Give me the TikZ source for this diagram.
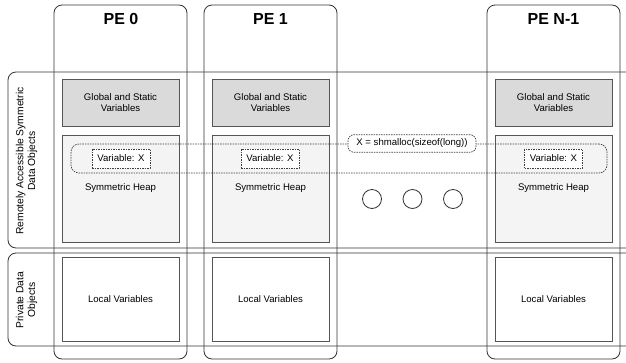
\documentclass[tikz,border=0pt]{standalone}
\usepackage{fontspec}
\setmainfont{Liberation Sans}
\definecolor{globalfill}{HTML}{DADADA}
\definecolor{heapfill}{HTML}{F4F4F4}
\definecolor{edge}{HTML}{333333}
\definecolor{boxedge}{HTML}{555555}
\begin{document}
\begin{tikzpicture}[x=1pt,y=-1pt,
  every node/.style={font=\fontsize{9.6}{11}\selectfont, inner sep=0pt, outer sep=0pt},
  frame/.style={draw=edge, line width=0.8pt, rounded corners=8pt},
  petitle/.style={font=\fontsize{16}{18}\selectfont\bfseries},
  globalbox/.style={draw=boxedge, line width=0.8pt, fill=globalfill, minimum width=117pt, minimum height=47pt, align=center},
  heapbox/.style={draw=boxedge, line width=0.8pt, fill=heapfill, minimum width=117pt, minimum height=107pt},
  localbox/.style={draw=boxedge, line width=0.8pt, fill=white, minimum width=117pt, minimum height=84pt},
  dashline/.style={draw=black!75, line width=0.7pt, dash pattern=on 1.5pt off 1pt},
  varbox/.style={dashline, fill=white, minimum width=58pt, minimum height=19pt},
  dots/.style={circle, draw=edge, line width=0.8pt, minimum size=19pt},
  rowlabel/.style={rotate=90, align=center, font=\fontsize{10.3}{11.8}\selectfont}
]
\useasboundingbox (0,0) rectangle (626,362);
\clip (0,0) rectangle (626,362);

% processing element columns
\node[frame, minimum width=133pt, minimum height=354pt] (pe0) at (120.5,182) {};
\node[frame, minimum width=133pt, minimum height=354pt] (pe1) at (270.5,182) {};
\node[frame, minimum width=133pt, minimum height=354pt] (pen) at (553.5,182) {};
\node[petitle] (t0) at (121,19) {PE 0};
\node[petitle] (t1) at (270.5,19) {PE 1};
\node[petitle] (tn) at (553.5,19) {PE N-1};

% data object rows
\node[frame, minimum width=640pt, minimum height=176pt] (rowsym) at (328,160) {};
\node[frame, minimum width=640pt, minimum height=93pt] (rowpriv) at (328,299.5) {};
\node[rowlabel] (labsym) at (26.5,161) {Remotely Accessible Symmetric\\Data Objects};
\node[rowlabel] (labpriv) at (26.5,300) {Private Data\\Objects};

% memory regions of each PE
\node[globalbox] (g0) at (120.5,102.5) {Global and Static\\Variables};
\node[globalbox] (g1) at (270.5,102.5) {Global and Static\\Variables};
\node[globalbox] (gn) at (553.5,102.5) {Global and Static\\Variables};

\node[heapbox] (h0) at (120.5,188.5) {};
\node[heapbox] (h1) at (270.5,188.5) {};
\node[heapbox] (hn) at (553.5,188.5) {};
\node (h0t) at (120.5,188) {Symmetric Heap};
\node (h1t) at (270.5,188) {Symmetric Heap};
\node (hnt) at (553.5,188) {Symmetric Heap};

\node[localbox] (l0) at (120.5,299) {Local Variables};
\node[localbox] (l1) at (270.5,299) {Local Variables};
\node[localbox] (ln) at (553.5,299) {Local Variables};

% symmetric allocation spanning all PEs
\node[dashline, rounded corners=8pt, minimum width=536pt, minimum height=29pt] (alloc) at (339,158.5) {};
\node[varbox] (v0) at (121,158.5) {Variable: X};
\node[varbox] (v1) at (270,158.5) {Variable: X};
\node[varbox] (vn) at (553.5,158.5) {Variable: X};
\node[dashline, rounded corners=6pt, fill=white, minimum width=128pt, minimum height=17.5pt] (call) at (412,143.5) {X = shmalloc(sizeof(long))};

% ellipsis between PE 1 and PE N-1
\node[dots] (d1) at (372,199) {};
\node[dots] (d2) at (412.5,199) {};
\node[dots] (d3) at (453,199) {};
\end{tikzpicture}
\end{document}
